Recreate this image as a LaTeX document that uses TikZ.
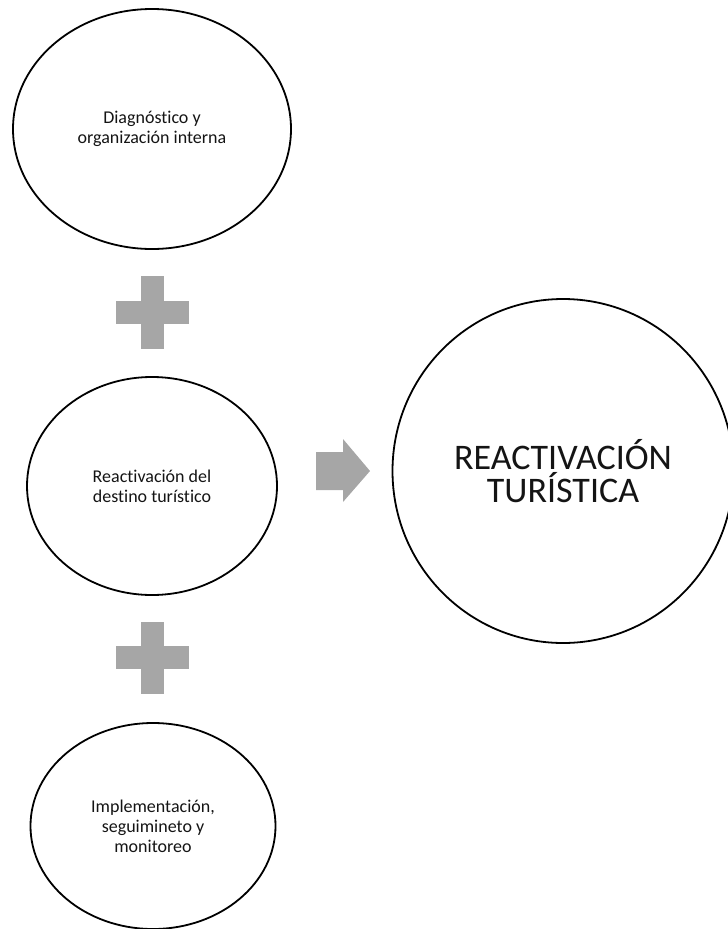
\documentclass[tikz,border=0pt]{standalone}
\usepackage{fontspec}
\setmainfont{Carlito}[Ligatures=NoCommon]
\usetikzlibrary{shapes.geometric}
\definecolor{plusgray}{RGB}{166,166,166}
\definecolor{txt}{RGB}{20,20,20}
\tikzset{
  oval/.style={draw=black, line width=1.8pt, ellipse, inner sep=0pt, align=center, text=txt,
    font=\fontsize{18}{20}\selectfont},
  bigoval/.style={oval, font=\fontsize{36}{33}\selectfont},
  grayshape/.style={fill=plusgray, draw=none}
}
\begin{document}
\begin{tikzpicture}[x=1pt,y=-1pt]
\useasboundingbox (0,0) rectangle (728,929);
\begin{scope}
\clip (0,0) rectangle (728,929);
\node[oval, minimum width=278pt, minimum height=240pt] (a) at (152,129) {Diagnóstico y\\organización interna};
\node[oval, minimum width=250pt, minimum height=218pt] (b) at (152,486) {Reactivación del\\destino turístico};
\node[oval, minimum width=245pt, minimum height=206pt] (c) at (153,826) {Implementación,\\seguimineto y\\monitoreo};
\node[bigoval, minimum width=341pt, minimum height=344pt] (r) at (563,471) {REACTIVACIÓN\\TURÍSTICA};
% plus signs
\fill[grayshape] (141,276) rectangle (164,349);
\fill[grayshape] (116,301) rectangle (189,324);
\fill[grayshape] (141,622) rectangle (164,694);
\fill[grayshape] (116,646) rectangle (189,669);
% arrow
\fill[grayshape] (316,452) -- (343,452) -- (343,439) -- (370,471) -- (343,502) -- (343,490) -- (316,490) -- cycle;
\end{scope}
\end{tikzpicture}
\end{document}
